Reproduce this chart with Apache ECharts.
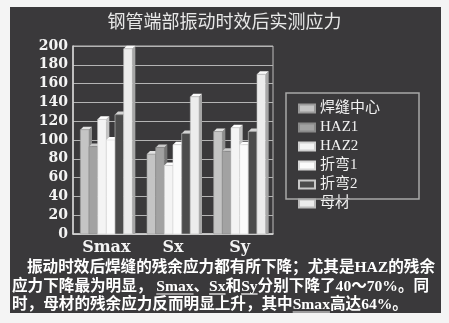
<!DOCTYPE html>
<html>
<head>
<meta charset="utf-8">
<script src="https://cdn.jsdelivr.net/npm/echarts@6/dist/echarts.min.js"></script>
<style>
  html, body { margin: 0; padding: 0; background: #f4f4f4; }
  #chart { width: 449px; height: 323px; }
</style>
</head>
<body>
<div id="chart"></div>
<script>
// Measured residual stress after vibratory stress relief, per location
const categories = ['Smax', 'Sx', 'Sy'];
const seriesNames = ['焊缝中心', 'HAZ1', 'HAZ2', '折弯1', '折弯2', '母材'];
const weldCenter = [111, 85, 109];
const haz1 = [93, 92, 88];
const haz2 = [122, 73, 113];
const bend1 = [100, 95, 95];
const bend2 = [127, 107, 109];
const baseMetal = [197, 146, 170];
const yTicks = [0, 200, 20]; // min, max, step

const seriesValues = [weldCenter, haz1, haz2, bend1, bend2, baseMetal];

// front / side / top face colours of each pseudo-3D column
const faces = [
  { front: '#c4c4c4', side: '#8e8e8e', top: '#e2e2e2', border: '#9a9a9a' },
  { front: '#a2a2a2', side: '#767676', top: '#cacaca', border: '#8a8a8a' },
  { front: '#f4f4f4', side: '#c4c4c4', top: '#ffffff', border: '#d0d0d0' },
  { front: '#fbfbfb', side: '#cdcdcd', top: '#ffffff', border: '#d8d8d8' },
  { front: '#4c4c4c', side: '#a8a8a8', top: '#d4d4d4', border: '#c8c8c8' },
  { front: '#ececec', side: '#a6a6a6', top: '#fafafa', border: '#bcbcbc' }
];

const DEPTH = 3;
const GROUP_FRACTION = 0.78;

function makeRenderer(pos, face) {
  return function (params, api) {
    const ci = api.value(0);
    const v = api.value(1);
    const top = api.coord([ci, v]);
    const base = api.coord([ci, 0]);
    const band = api.size([1, 0])[0];
    const groupW = band * GROUP_FRACTION;
    const w = groupW / seriesValues.length;
    const x0 = top[0] - groupW / 2 + pos * w;
    const x1 = x0 + w;
    return {
      type: 'group',
      children: [
        {
          type: 'polygon',
          shape: { points: [[x1, top[1]], [x1 + DEPTH, top[1] - DEPTH], [x1 + DEPTH, base[1]], [x1, base[1]]] },
          style: { fill: face.side }
        },
        {
          type: 'polygon',
          shape: { points: [[x0, top[1]], [x0 + DEPTH, top[1] - DEPTH], [x1 + DEPTH, top[1] - DEPTH], [x1, top[1]]] },
          style: { fill: face.top }
        },
        {
          type: 'rect',
          shape: { x: x0, y: top[1], width: w, height: base[1] - top[1] },
          style: { fill: face.front, stroke: face.border, lineWidth: 0.6 }
        }
      ]
    };
  };
}

const series = seriesNames.map(function (name, i) {
  return {
    name: name,
    type: 'custom',
    renderItem: makeRenderer(i, faces[i]),
    encode: { x: 0, y: 1 },
    itemStyle: { color: faces[i].front, borderColor: faces[i].border, borderWidth: 1 },
    data: seriesValues[i].map(function (v, ci) { return [ci, v]; }),
    z: 3
  };
});

// caption beneath the chart
const captionFont = 'bold 15.6px "Liberation Serif", "Noto Sans CJK SC", serif';
const captionLines = [
  { x: 27, y: 268, text: '振动时效后焊缝的残余应力都有所下降；尤其是HAZ的残余', under: [] },
  { x: 12, y: 287, text: '应力下降最为明显， Smax、Sx和Sy分别下降了40～70%。同', under: ['Smax', 'Sx', 'Sy'] },
  { x: 12, y: 305, text: '时，母材的残余应力反而明显上升，其中Smax高达64%。', under: ['Smax'] }
];

const measureCtx = document.createElement('canvas').getContext('2d');
measureCtx.font = captionFont;

const captionGraphics = [];
captionLines.forEach(function (ln) {
  captionGraphics.push({
    type: 'text',
    silent: true,
    style: {
      x: ln.x, y: ln.y, text: ln.text, font: captionFont,
      fill: '#ffffff', textAlign: 'left', textVerticalAlign: 'middle'
    }
  });
  let from = 0;
  ln.under.forEach(function (word) {
    const idx = ln.text.indexOf(word, from);
    from = idx + word.length;
    const sx = ln.x + measureCtx.measureText(ln.text.slice(0, idx)).width;
    const ww = measureCtx.measureText(word).width;
    captionGraphics.push({
      type: 'line',
      silent: true,
      shape: { x1: sx, y1: ln.y + 7, x2: sx + ww, y2: ln.y + 7 },
      style: { stroke: '#ffffff', lineWidth: 1.2 }
    });
  });
});

const chart = echarts.init(document.getElementById('chart'), null, { renderer: 'canvas' });
chart.setOption({
  backgroundColor: 'transparent',
  animation: false,
  title: {
    text: '钢管端部振动时效后实测应力',
    left: 'center',
    top: 7,
    textStyle: { color: '#e8e8e8', fontSize: 18, fontWeight: 'normal', fontFamily: '"Noto Sans CJK SC", sans-serif' }
  },
  legend: {
    orient: 'vertical',
    left: 293,
    top: 96,
    itemWidth: 16,
    itemHeight: 8,
    itemGap: 4,
    icon: 'rect',
    data: seriesNames,
    textStyle: {
      color: '#f2f2f2', fontSize: 15, lineHeight: 14,
      fontFamily: '"Liberation Serif", "Noto Sans CJK SC", serif'
    }
  },
  grid: {
    left: 73, right: 176, top: 46, bottom: 89,
    show: true, borderColor: '#bdbdbd', borderWidth: 1, backgroundColor: 'transparent'
  },
  xAxis: {
    type: 'category',
    data: categories,
    axisLine: { lineStyle: { color: '#d6d6d6', width: 1.5 } },
    axisTick: { show: false },
    axisLabel: {
      color: '#f4f4f4', fontSize: 16, fontWeight: 'bold', margin: 6,
      fontFamily: '"DejaVu Serif", serif'
    }
  },
  yAxis: {
    type: 'value',
    min: yTicks[0], max: yTicks[1], interval: yTicks[2],
    axisLine: { show: true, lineStyle: { color: '#d6d6d6', width: 1.5 } },
    axisTick: { show: false },
    splitLine: { lineStyle: { color: '#b4b4b4', width: 1 } },
    axisLabel: {
      color: '#f4f4f4', fontSize: 14, fontWeight: 'bold', margin: 5,
      fontFamily: '"DejaVu Serif", serif'
    }
  },
  graphic: [
    {
      type: 'rect', silent: true, z: -10,
      shape: { x: 10, y: 7, width: 431, height: 306 },
      style: { fill: '#3a393b' }
    },
    {
      type: 'rect', silent: true, z: 5,
      shape: { x: 286, y: 93, width: 133, height: 106 },
      style: { fill: 'none', stroke: '#a8a8a8', lineWidth: 1.5 }
    }
  ].concat(captionGraphics),
  series: series
});
</script>
</body>
</html>
